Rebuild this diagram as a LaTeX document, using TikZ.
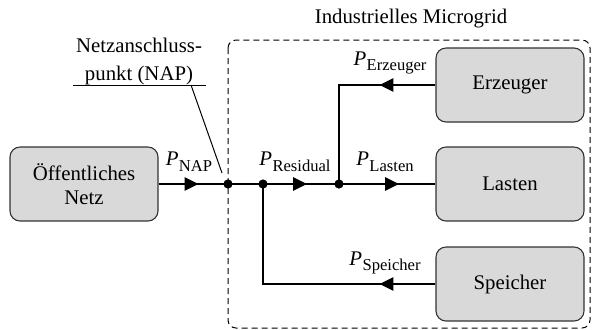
\documentclass[tikz,border=0pt]{standalone}
\usepackage{fontspec}
\setmainfont{Liberation Serif}
\usetikzlibrary{arrows.meta,decorations.markings}

% power symbol with an upright, lowered index
\newcommand\pflow[1]{\textit{P}\kern0.2pt\raisebox{-0.6ex}{\fontsize{8.3}{9}\selectfont #1}}

\begin{document}
\begin{tikzpicture}[x=0.5pt,y=-0.5pt,
  font=\fontsize{10.4}{13}\selectfont,
  block/.style={draw=black!80, line width=0.55pt, fill=black!15,
    rounded corners=5pt, minimum width=74pt, minimum height=37pt,
    align=center, inner sep=0pt},
  flow/.style={line width=1.4pt},
  tipat/.style={postaction={decorate}, decoration={markings,
    mark=at position #1 with {\arrow{Triangle[length=7pt,width=6.5pt]}}}},
  junction/.style={circle, fill=black, inner sep=0pt, minimum size=4.6pt},
  flowlabel/.style={inner sep=0pt}]

\useasboundingbox (0,0) rectangle (592,329);

% microgrid boundary
\draw[line width=0.5pt, dash pattern=on 3pt off 2pt, rounded corners=4pt]
  (228,40) rectangle (590,328);
\node (title) at (411,19) {Industrielles Microgrid};

% blocks
\node[block] (oeff) at (84,184) {Öffentliches\\[-1pt]Netz};
\node[block] (erz)  at (510,85)  {Erzeuger};
\node[block] (last) at (510,184) {Lasten};
\node[block] (spei) at (510,284) {Speicher};

% junctions
\coordinate (nap) at (228,184);
\coordinate (res) at (263,184);
\coordinate (mid) at (339,184);

% power flows
\draw[flow, tipat=20pt] (oeff.east) -- (nap);
\draw[flow] (nap) -- (res);
\draw[flow, tipat=22pt] (res) -- (mid);
\draw[flow, tipat=30pt] (mid) -- (last.west);
\draw[flow, tipat=28pt] (erz.west) -- (erz.west -| mid) -- (mid);
\draw[flow, tipat=28pt] (spei.west) -- (spei.west -| res) -- (res);

\node[junction] at (nap) {};
\node[junction] at (res) {};
\node[junction] at (mid) {};

% flow labels
\node[flowlabel] (pnap) at (189,162) {\pflow{NAP}};
\node[flowlabel] (pres) at (295,162) {\pflow{Residual}};
\node[flowlabel] (plas) at (385,162) {\pflow{Lasten}};
\node[flowlabel] (perz) at (390,63)  {\pflow{Erzeuger}};
\node[flowlabel] (pspe) at (385,263) {\pflow{Speicher}};

% grid connection point callout
\node[align=center] (naptxt) at (139,61) {Netzanschluss-\\[1pt]punkt (NAP)};
\coordinate (ulL) at (73,85);
\coordinate (ulR) at (206,85);
\coordinate (ulK) at (191,85);
\coordinate (leadEnd) at (222,173);
\draw[line width=0.5pt] (ulL) -- (ulR);
\draw[line width=0.5pt] (ulK) -- (leadEnd);
\end{tikzpicture}
\end{document}
